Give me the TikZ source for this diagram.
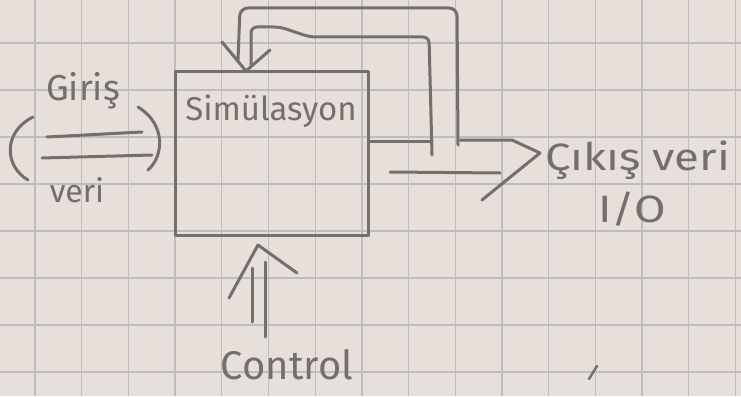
\documentclass[tikz,border=0pt]{standalone}
\usepackage{fontspec}
\setmainfont{Fira Sans}
\usetikzlibrary{calc}
\definecolor{paper}{RGB}{231,223,217}
\definecolor{gridline}{RGB}{192,187,188}
\definecolor{pencil}{RGB}{116,110,108}
\tikzset{pencil/.style={draw=pencil, line width=3pt, line cap=round, line join=round},
  hand/.style={text=pencil, inner sep=0pt},
}

\begin{document}
\begin{tikzpicture}[x=1pt, y=-1pt]
\useasboundingbox (0,0) rectangle (741,396);
% squared paper
\fill[paper] (0,0) rectangle (741,396);
\foreach \gx in {35,81.7,...,741} \draw[gridline, line width=1.3pt] (\gx,0) -- (\gx,396);
\foreach \gy in {-4,43,...,396} \draw[gridline, line width=1.3pt] (0,\gy) -- (741,\gy);

% the block
\node[pencil, minimum width=193pt, minimum height=164pt] (sim) at (271.5,153) {};
\node[hand, font=\fontsize{33}{33}\selectfont] (simtext) at (271,111) {Simülasyon};

% labels
\node[hand, font=\fontsize{36}{36}\selectfont] (giris) at (83,91) {Giriş};
\node[hand, font=\fontsize{32}{32}\selectfont] (girisveri) at (77,190) {veri};
\node[hand, font=\fontsize{38}{38}\selectfont, xscale=1.2, anchor=base west] (cikis) at (545,170) {Çıkış veri};
\node[hand, font=\fontsize{38}{38}\selectfont, xscale=1.2] (io) at (632,209) {I/O};
\node[hand, font=\fontsize{40}{40}\selectfont] (control) at (287,365) {Control};

% input
\coordinate (inup0) at (47,137);  \coordinate (inup1) at (142,132);
\coordinate (inlo0) at (42,158);  \coordinate (inlo1) at (152,155);
\draw[pencil] (inup0) -- (inup1);
\draw[pencil] (inlo0) -- (inlo1);
\draw[pencil] (33,117) .. controls (3,132) and (4,166) .. (28,180);
\draw[pencil] (138,107) .. controls (166,124) and (164,156) .. (148,170);

% output
\coordinate (outup) at (432,141);
\coordinate (outup1) at (460,140);
\coordinate (outlo0) at (390,172); \coordinate (outlo1) at (500,173);
\coordinate (outtip) at (540,153);
\draw[pencil] (sim.east |- outup) -- (outup);
\draw[pencil] (outup1) -- (512,140) -- (outtip);
\draw[pencil] (outlo0) -- (outlo1);
\draw[pencil] (482,200) -- (outtip);

% feedback loop
\coordinate (fbo) at (458,145);
\coordinate (fbi) at (432,155);
\coordinate (fbtip) at (246,71);
\draw[pencil, rounded corners=8pt] (fbo) -- (457,8) -- (240,8) -- (238,60);
\draw[pencil, rounded corners=6pt] (fbi) -- (429,37) -- (310,37) -- (280,27) -- (251,27) -- (251,66);
\draw[pencil] (222,42) -- (fbtip) -- (270,50);

% control
\coordinate (cttip) at (258,245);
\draw[pencil] (252,268) -- (252,322);
\draw[pencil] (265,262) -- (265,337);
\draw[pencil] (229,298) -- (cttip) -- (297,273);

\draw[pencil, line width=2.5pt] (597,366) -- (589,379);
\end{tikzpicture}
\end{document}
